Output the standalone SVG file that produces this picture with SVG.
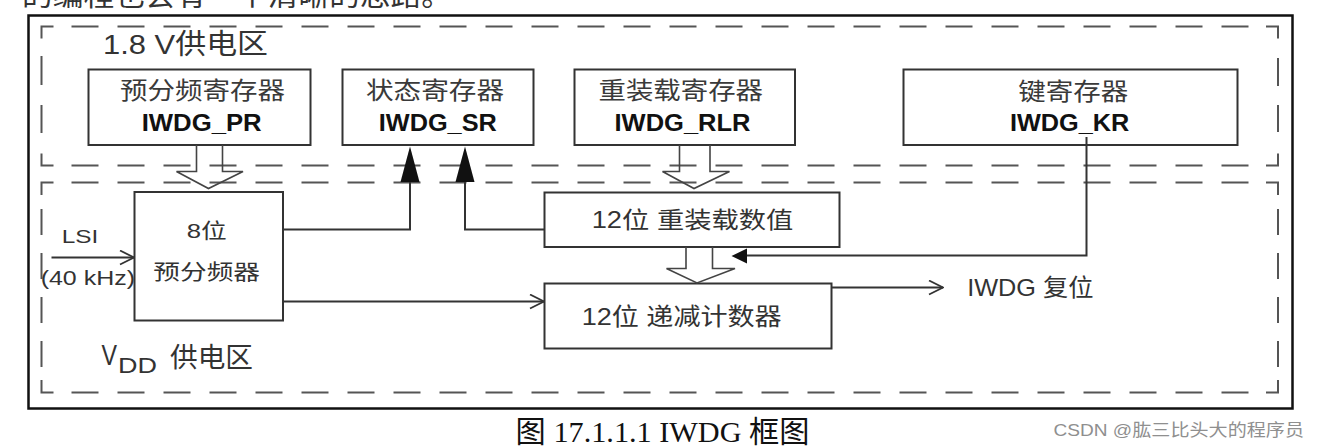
<svg xmlns="http://www.w3.org/2000/svg" width="1320" height="448" viewBox="0 0 1320 448">
<style>
  .frame { fill: none; stroke: #111; stroke-width: 2.5; }
  .dash { fill: none; stroke: #555; stroke-width: 2; }
  .hdash { fill: none; stroke: #555; stroke-width: 2; stroke-dasharray: 27 19; }
  .box { fill: #fff; stroke: #333; stroke-width: 2; }
  .wire { fill: none; stroke: #333; stroke-width: 2; }
  .wide { fill: none; stroke: #444; stroke-width: 1.6; }
  .solid { fill: #111; stroke: none; }
  .t { font-family: "Liberation Sans", "Noto Sans CJK SC", sans-serif; fill: #333; }
  .cn { font-family: "Liberation Sans", "Noto Sans CJK SC", sans-serif; fill: #3a3a3a; font-size: 24px; }
  .reg { font-family: "Liberation Sans", "Noto Sans CJK SC", sans-serif; fill: #111; font-size: 24px; font-weight: bold; }
  .cap { font-family: "Liberation Serif", "Noto Sans CJK SC", serif; fill: #111; font-size: 30px; }
  .wm { font-family: "Liberation Sans", "Noto Sans CJK SC", sans-serif; fill: #8f8f8f; font-size: 17px; }
</style>
<defs>
  <marker id="open" markerUnits="userSpaceOnUse" markerWidth="16" markerHeight="16" viewBox="0 0 16 16" refX="15" refY="8" orient="auto">
    <path d="M1,1 L15,8 L1,15" fill="none" stroke="#333" stroke-width="1.8"/>
  </marker>
</defs>

<rect width="1320" height="448" fill="#fff"/>

<!-- cut-off text line of the surrounding page -->
<text class="t" x="22" y="6" font-size="28" fill="#222" textLength="430" lengthAdjust="spacingAndGlyphs">的编程也会有一个清晰的思路。</text>

<!-- outer frame -->
<g id="frame">
  <rect class="frame" x="28.5" y="15.5" width="1264" height="393"/>
</g>

<!-- 1.8 V zone -->
<g id="zone-18v">
  <path class="dash" d="M53.5,26.5 H41.5 V38.5 M1266,26.5 H1278 V38.5 M41.5,153.5 V165.5 H53.5 M1278,153.5 V165.5 H1266"/>
  <line class="hdash" x1="71.5" y1="26.5" x2="1254" y2="26.5"/>
  <line class="hdash" x1="71.5" y1="165.5" x2="1254" y2="165.5"/>
  <path class="dash" d="M41.5,56 V85 M41.5,105 V133 M1278,58 V86 M1278,105 V132"/>
  <text class="t" x="103" y="53.5" font-size="28" textLength="165" lengthAdjust="spacingAndGlyphs">1.8 V供电区</text>
</g>

<!-- VDD zone -->
<g id="zone-vdd">
  <path class="dash" d="M53.5,182.5 H41.5 V195 M1266,182.5 H1278 V195 M41.5,380 V392.5 H53.5 M1278,380 V392.5 H1266"/>
  <line class="hdash" x1="71.5" y1="182.5" x2="1254" y2="182.5"/>
  <line class="hdash" x1="71.5" y1="392.5" x2="1254" y2="392.5"/>
  <path class="dash" d="M41.5,209 V235 M41.5,253 V279 M41.5,297 V323 M41.5,341 V367 M1278,209 V235 M1278,253 V279 M1278,297 V323 M1278,341 V367"/>
  <text class="t" font-size="29"><tspan x="101.5" y="365" textLength="15.5" lengthAdjust="spacingAndGlyphs">V</tspan><tspan x="118" y="373.3" font-size="22" textLength="39" lengthAdjust="spacingAndGlyphs">DD</tspan><tspan x="170" y="367" font-size="27" textLength="83" lengthAdjust="spacingAndGlyphs">供电区</tspan></text>
</g>

<!-- register nodes -->
<g id="node-pr">
  <rect class="box" x="88.5" y="69.5" width="222" height="75.5"/>
  <text class="cn" x="120" y="99" textLength="165" lengthAdjust="spacingAndGlyphs">预分频寄存器</text>
  <text class="reg" x="141.7" y="130.7" textLength="120" lengthAdjust="spacingAndGlyphs">IWDG_PR</text>
</g>
<g id="node-sr">
  <rect class="box" x="342.5" y="69.5" width="191" height="75.5"/>
  <text class="cn" x="366" y="99" textLength="138" lengthAdjust="spacingAndGlyphs">状态寄存器</text>
  <text class="reg" x="378.8" y="130.7" textLength="118" lengthAdjust="spacingAndGlyphs">IWDG_SR</text>
</g>
<g id="node-rlr">
  <rect class="box" x="574.5" y="69.5" width="220.5" height="75.5"/>
  <text class="cn" x="598.5" y="99" textLength="164.5" lengthAdjust="spacingAndGlyphs">重装载寄存器</text>
  <text class="reg" x="614.5" y="130.7" textLength="136" lengthAdjust="spacingAndGlyphs">IWDG_RLR</text>
</g>
<g id="node-kr">
  <rect class="box" x="903.5" y="69.5" width="334" height="75.5"/>
  <text class="cn" x="1018.3" y="100" textLength="110" lengthAdjust="spacingAndGlyphs">键寄存器</text>
  <text class="reg" x="1010" y="131.3" textLength="119.3" lengthAdjust="spacingAndGlyphs">IWDG_KR</text>
</g>

<!-- VDD-domain nodes -->
<g id="node-prescaler">
  <rect class="box" x="134.5" y="192" width="148.5" height="128.5"/>
  <text class="t" x="186.7" y="238.3" font-size="21" textLength="40" lengthAdjust="spacingAndGlyphs">8位</text>
  <text class="t" x="153.3" y="278.5" font-size="21" textLength="106.7" lengthAdjust="spacingAndGlyphs">预分频器</text>
</g>
<g id="node-reload">
  <rect class="box" x="544.5" y="192.5" width="295" height="54.5"/>
  <text class="t" x="591.7" y="228.3" font-size="23" textLength="201.6" lengthAdjust="spacingAndGlyphs">12位 重装载数值</text>
</g>
<g id="node-counter">
  <rect class="box" x="544.5" y="283.5" width="287" height="65"/>
  <text class="t" x="581.7" y="325" font-size="24" textLength="200" lengthAdjust="spacingAndGlyphs">12位 递减计数器</text>
</g>

<!-- connectors -->
<g id="connectors">
  <!-- wide (hollow) arrows -->
  <path class="wide" d="M196.5,145 V171.5 H176.5 L208.5,188.5 L243,171.5 H222.5 V145"/>
  <path class="wide" d="M679.5,145 V171.5 H662.5 L694,188.5 L729.5,171.5 H710 V145"/>
  <path class="wide" d="M686,247 V268.5 H666.5 L697,283 L735,268.5 H712.5 V247"/>
  <!-- status flags -->
  <polyline class="wire" points="283,229.5 410,229.5 410,180"/>
  <polygon class="solid" points="410,146.5 400.5,182 419.5,182"/>
  <polyline class="wire" points="544.5,229.5 465,229.5 465,180"/>
  <polygon class="solid" points="465,146.5 455.5,182 474.5,182"/>
  <!-- key register -->
  <polyline class="wire" points="1086.5,137 1086.5,255.5 745,255.5"/>
  <polygon class="solid" points="731.5,256 747,248.5 747,263.5"/>
  <!-- open arrows -->
  <line class="wire" x1="51.5" y1="257.5" x2="134" y2="257.5" marker-end="url(#open)"/>
  <line class="wire" x1="283" y1="301.5" x2="544" y2="301.5" marker-end="url(#open)"/>
  <line class="wire" x1="831.5" y1="287.5" x2="943" y2="287.5" marker-end="url(#open)"/>
</g>

<!-- free labels -->
<g id="labels">
  <text class="t" x="61.7" y="242.7" font-size="18" textLength="36.6" lengthAdjust="spacingAndGlyphs">LSI</text>
  <text class="t" x="40.7" y="285" font-size="21" textLength="94.3" lengthAdjust="spacingAndGlyphs">(40 kHz)</text>
  <text class="t" x="967.2" y="296" font-size="24" textLength="126.3" lengthAdjust="spacingAndGlyphs">IWDG 复位</text>
  <text class="cap" x="515.6" y="442" textLength="294" lengthAdjust="spacingAndGlyphs">图 17.1.1.1 IWDG 框图</text>
  <text class="wm" x="1053.5" y="436" textLength="250.5" lengthAdjust="spacingAndGlyphs">CSDN @肱三比头大的程序员</text>
</g>
</svg>
